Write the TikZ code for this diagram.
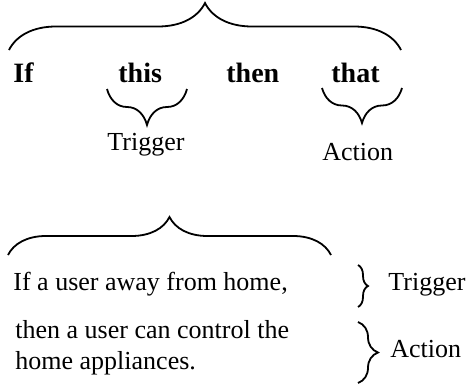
\documentclass[tikz,border=0pt]{standalone}
\usepackage{fontspec}
\setmainfont{Liberation Serif}
\usetikzlibrary{decorations.pathreplacing}

\begin{document}
\begin{tikzpicture}[x=0.5pt,y=-0.5pt,
	brc/.style={decorate,decoration={brace,amplitude=#1},line width=0.9pt},
	brc/.default=10pt,
	kw/.style={font=\fontsize{14}{16}\selectfont\bfseries,inner sep=0pt,anchor=base west},
	txt/.style={font=\fontsize{13}{15.5}\selectfont,inner sep=0pt,anchor=base west}]
	%Page is 471 x 391 (one unit = one pixel, y grows downwards)
	\useasboundingbox (0,0) rectangle (471,391);

	%The rule: If this then that
	\node[kw] (ifw) at (13,82) {If};
	\node[kw] (thisw) at (118,82) {this};
	\node[kw] (thenw) at (226,82) {then};
	\node[kw] (thatw) at (331,82) {that};

	%Brace over the whole rule
	\draw[brc=23.5pt] (9,50) -- (401,50);

	%Braces under this and that
	\draw[brc=18pt] (187,89) -- (107,89);
	\draw[brc=17.5pt] (402,88) -- (322,88);
	\node[txt] (trig) at (107,150) {Trigger};
	\node[txt] (act) at (322,160) {Action};

	%The example
	\draw[brc=19pt] (8,255) -- (331,255);
	\node[txt] (line1) at (13,290) {If a user away from home,};
	\node[txt] (line2) at (15,338) {then a user can control the};
	\node[txt] (line3) at (15,369) {home appliances.};

	%Braces on the right
	\draw[brc=5pt] (358,265) -- (358,307);
	\draw[brc=10pt] (358,322) -- (358,383);
	\node[txt] (trig2) at (388,290) {Trigger};
	\node[txt] (act2) at (390,357) {Action};
\end{tikzpicture}
\end{document}
